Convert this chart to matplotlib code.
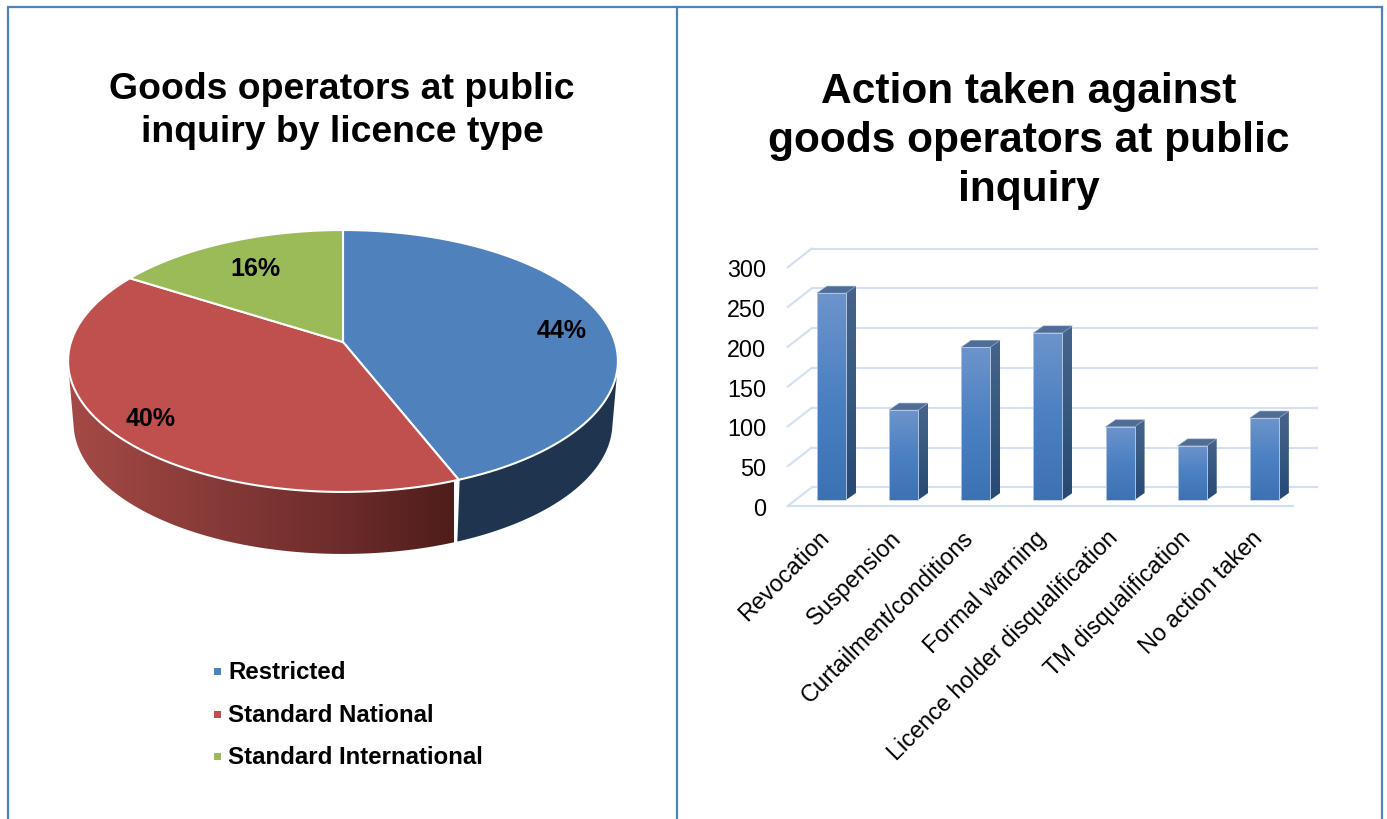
import numpy as np
import matplotlib
matplotlib.use("Agg")
import matplotlib.pyplot as plt
from matplotlib.colors import LinearSegmentedColormap
from matplotlib.patches import Polygon, Rectangle
from matplotlib.transforms import ScaledTranslation

plt.rcParams["font.family"] = ["Liberation Sans", "DejaVu Sans"]

# Data
licence_types = ["Restricted", "Standard National", "Standard International"]
licence_shares = [44, 40, 16]
licence_colors = ["#4f81bd", "#c0504d", "#9bbb59"]

actions = ["Revocation", "Suspension", "Curtailment/conditions", "Formal warning",
           "Licence holder disqualification", "TM disqualification", "No action taken"]
action_counts = [260, 113, 192, 210, 92, 68, 103]
count_ticks = [0, 50, 100, 150, 200, 250, 300]

W, H = 1387, 820
fig = plt.figure(figsize=(W / 100, H / 100), dpi=100, facecolor="white")

# Whole-figure canvas in pixel units, y pointing down
bg = fig.add_axes([0, 0, 1, 1])
bg.set_xlim(0, W)
bg.set_ylim(H, 0)
bg.axis("off")

# Panel frame
frame = "#4f81bd"
bg.plot([8, 8, 1382, 1382], [H, 8, 8, H], color=frame, lw=1.6, solid_joinstyle="miter")
bg.plot([677, 677], [8, H], color=frame, lw=1.6)

bg.text(342, 111, "Goods operators at public\ninquiry by licence type", ha="center",
        va="center", fontsize=26.9, fontweight="bold", linespacing=1.27)
bg.text(1029, 141, "Action taken against\ngoods operators at public\ninquiry", ha="center",
        va="center", fontsize=30.6, fontweight="bold", linespacing=1.28)

# Tilted pie: a unit disc seen in perspective, with a lower rim
APEX_X, APEX_Y = 343, 343
SCALE_X, SCALE_Y, TILT = 272, 128.2, 0.145
DEPTH, RIM_SHRINK = 62, 0.98


def rim(t):
    """Pixel position on the top rim for clockwise angle t from twelve o'clock."""
    x, y = np.sin(t), -np.cos(t)
    d = 1 - TILT * y
    return APEX_X + SCALE_X * x / d, APEX_Y + SCALE_Y * y / d


def lower(t):
    x, y = rim(t)
    return APEX_X + (x - APEX_X) * RIM_SHRINK, y + DEPTH


def convex_hull(points):
    pts = sorted(set(points))

    def half(seq):
        out = []
        for p in seq:
            while len(out) > 1 and ((out[-1][0] - out[-2][0]) * (p[1] - out[-2][1])
                                    - (out[-1][1] - out[-2][1]) * (p[0] - out[-2][0])) <= 0:
                out.pop()
            out.append(p)
        return out[:-1]

    return half(pts) + half(pts[::-1])


def wall(a, b):
    """Outline swept by a stretch of the rim as it drops to the lower rim."""
    ts = np.linspace(a, b, 200)
    tx, ty = rim(ts)
    lx, ly = lower(ts)
    return convex_hull(list(zip(tx, ty)) + list(zip(lx, ly)))


edges = 2 * np.pi * np.cumsum([0] + licence_shares) / sum(licence_shares)

# Walls of the two front wedges: flat navy, and a red that darkens to the right
bg.add_patch(Polygon(wall(np.radians(75), edges[1]), closed=True, facecolor="#1f344f",
                     edgecolor="none", zorder=2))
red_wall = Polygon(wall(edges[1], np.radians(285)), closed=True, facecolor="none",
                   edgecolor="none", zorder=2)
bg.add_patch(red_wall)
red_map = LinearSegmentedColormap.from_list(
    "red_wall", [(0, "#a54a46"), (0.73, "#6b2b2a"), (1, "#4e1d1a")])
shade = bg.imshow(np.linspace(0, 1, 256).reshape(1, -1), cmap=red_map, aspect="auto",
                  extent=(68, 454, 570, 340), zorder=2)
shade.set_clip_path(red_wall)
bg.set_xlim(0, W)
bg.set_ylim(H, 0)

# Seam between the blue and red walls
sx0, sy0 = rim(edges[1])
sx1, sy1 = lower(edges[1])
bg.plot([sx0, sx1], [sy0, sy1], color="white", lw=1.3, zorder=3)

for i, color in enumerate(licence_colors):
    ts = np.linspace(edges[i], edges[i + 1], 200)
    xs, ys = rim(ts)
    verts = [(APEX_X, APEX_Y)] + list(zip(xs, ys))
    bg.add_patch(Polygon(verts, closed=True, facecolor=color, edgecolor="white",
                         lw=1.5, zorder=4, joinstyle="round"))

label_spots = [(562, 331), (151, 419), (255, 269)]
for share, (lx, ly) in zip(licence_shares, label_spots):
    bg.text(lx, ly, f"{share}%", ha="center", va="center", fontsize=18,
            fontweight="bold", zorder=5)

# Legend
for name, color, ly in zip(licence_types, licence_colors, [673, 716, 758]):
    bg.add_patch(Rectangle((213.5, ly - 4), 7, 7, facecolor=color, edgecolor="none"))
    bg.text(228, ly, name, ha="left", va="center", fontsize=17.3, fontweight="bold")

# Bar chart with a pseudo-3D floor and back wall
ax = fig.add_axes([787.7 / W, (H - 507) / H, 505 / W, (507 - 268.3) / H])
ax.patch.set_alpha(0)
for spine in ax.spines.values():
    spine.set_visible(False)
ax.set_xlim(-0.5, 6.5)
ax.set_ylim(0, 300)

grid_color = "#d3e0f3"
BACK_DX, BACK_DY = 0.333, 23.5
for v in count_ticks:
    ax.plot([-0.5, -0.5 + BACK_DX], [v, v + BACK_DY], color=grid_color, lw=1.5,
            clip_on=False, zorder=1)
    ax.plot([-0.5 + BACK_DX, 6.5 + BACK_DX], [v + BACK_DY, v + BACK_DY], color=grid_color,
            lw=1.5, clip_on=False, zorder=1)
ax.plot([-0.5, 6.5], [0, 0], color=grid_color, lw=1.5, clip_on=False, zorder=1)

front_map = LinearSegmentedColormap.from_list("front", ["#6d94cb", "#4b80c2", "#3c71b3"])
side_map = LinearSegmentedColormap.from_list("side", ["#48638c", "#36597f", "#264874"])
ramp = np.linspace(0, 1, 128).reshape(-1, 1)

BAR_WIDTH = 0.402
SHIFT_X, BASE = 0.107, 7.54
SIDE_DX, SIDE_DY = 0.1386, 8.8

for i, v in enumerate(action_counts):
    x0 = i + SHIFT_X - BAR_WIDTH / 2
    x1 = x0 + BAR_WIDTH
    top = BASE + v

    side = Polygon([(x1, BASE), (x1 + SIDE_DX, BASE + SIDE_DY), (x1 + SIDE_DX, top + SIDE_DY),
                    (x1, top)], closed=True, facecolor="none", edgecolor="none",
                   clip_on=False)
    ax.add_patch(side)
    im = ax.imshow(ramp, cmap=side_map, aspect="auto", zorder=3,
                   extent=(x1, x1 + SIDE_DX, BASE, top + SIDE_DY), origin="upper")
    im.set_clip_path(side)

    ax.add_patch(Polygon([(x0, top), (x0 + SIDE_DX, top + SIDE_DY),
                          (x1 + SIDE_DX, top + SIDE_DY), (x1, top)], closed=True,
                         facecolor="#4f6d96", edgecolor="#8fa7c8", lw=0.4, zorder=3,
                         clip_on=False))

    bar = ax.bar(i + SHIFT_X, v, width=BAR_WIDTH, bottom=BASE, color="none",
                 edgecolor="none", zorder=3)[0]
    im = ax.imshow(ramp, cmap=front_map, aspect="auto", zorder=3.1,
                   extent=(x0, x1, BASE, top), origin="upper")
    im.set_clip_path(bar)
    ax.add_patch(Rectangle((x0, BASE), BAR_WIDTH, v, facecolor="none", edgecolor="#bccfe8",
                           lw=0.6, zorder=3.2))

ax.set_xlim(-0.5, 6.5)
ax.set_ylim(0, 300)
ax.set_yticks(count_ticks)
ax.set_xticks(range(len(actions)))
ax.tick_params(axis="y", length=0, pad=15.6, labelsize=16.8)
ax.tick_params(axis="x", length=0, pad=14)
ax.set_xticklabels(actions, rotation=45, ha="right", rotation_mode="anchor", fontsize=16.9)
nudge = ScaledTranslation(-6 / 100, 0, fig.dpi_scale_trans)
for lab in ax.get_xticklabels():
    lab.set_transform(lab.get_transform() + nudge)

fig.savefig("out.png", dpi=100, facecolor="white")
